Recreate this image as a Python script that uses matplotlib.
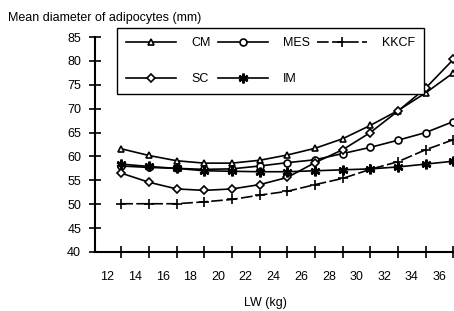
import numpy as np
import matplotlib
matplotlib.use("Agg")
import matplotlib.pyplot as plt

plt.rcParams['font.family'] = ['Liberation Sans', 'DejaVu Sans']

# live weight (kg) at each measurement
lw = [13, 15, 17, 19, 21, 23, 25, 27, 29, 31, 33, 35, 37]

# mean adipocyte diameter per fat depot
cm = [61.6, 60.2, 59.1, 58.6, 58.6, 59.2, 60.3, 61.7, 63.7, 66.5, 69.6, 73.3, 77.5]
mes = [58.0, 57.7, 57.5, 57.3, 57.4, 58.0, 58.7, 59.3, 60.6, 61.9, 63.4, 65.0, 67.3]
kkcf = [50.1, 50.1, 50.1, 50.5, 51.0, 51.9, 52.7, 54.1, 55.4, 57.3, 58.9, 61.4, 63.5]
sc = [56.5, 54.6, 53.2, 52.9, 53.2, 54.1, 55.6, 58.7, 61.4, 65.0, 69.5, 74.3, 80.3]
im = [58.4, 57.9, 57.5, 57.0, 56.9, 56.8, 56.8, 57.0, 57.2, 57.4, 57.8, 58.4, 59.0]

xlabels = [12, 14, 16, 18, 20, 22, 24, 26, 28, 30, 32, 34, 36]

fig = plt.figure(figsize=(4.54, 3.11), dpi=100)
ax = fig.add_axes([95 / 454, 59 / 311, 359 / 454, 215 / 311])

kw = dict(color='black', lw=1.2, clip_on=False, markersize=5,
          markerfacecolor='white', markeredgewidth=1.2)
l_cm, = ax.plot(lw, cm, marker='^', label='CM', **kw)
l_mes, = ax.plot(lw, mes, marker='o', label='MES', **kw)
l_kkcf, = ax.plot(lw, kkcf, marker='+', label='KKCF', dashes=(7, 2), **dict(kw, markersize=7))
l_sc, = ax.plot(lw, sc, marker='D', label='SC', **dict(kw, markersize=4.5))
l_im, = ax.plot(lw, im, marker=(6, 2, 0), label='IM', **dict(kw, markersize=7, markeredgewidth=1.8))

ax.set_xlim(11.1, 37.05)
ax.set_ylim(40, 85)
ax.set_yticks(np.arange(40, 86, 5))
ax.set_xticks(lw)
ax.set_xticklabels([])
ax.set_xticks(xlabels, minor=True)
ax.set_xticklabels([str(v) for v in xlabels], minor=True)
ax.tick_params(axis='x', which='major', direction='inout', length=8, width=1.2)
ax.tick_params(axis='x', which='minor', length=0, pad=14, labelsize=9)
ax.tick_params(axis='y', direction='inout', length=8, width=1.2, labelsize=9, pad=6)

for s in ['top', 'right']:
    ax.spines[s].set_visible(False)
ax.spines['left'].set_linewidth(1.5)
ax.spines['bottom'].set_linewidth(1.5)

leg = ax.legend(handles=[l_cm, l_sc, l_mes, l_im, l_kkcf], ncol=3,
                loc='upper left', bbox_to_anchor=(0.062, 1.04), fontsize=9,
                handlelength=4, columnspacing=0.6, handletextpad=1.2,
                labelspacing=1.9, borderpad=0.7, borderaxespad=0,
                fancybox=False, edgecolor='black', framealpha=1)
leg.get_frame().set_linewidth(1.0)

fig.text(8 / 454, 1 - 18 / 311, 'Mean diameter of adipocytes (mm)', fontsize=9, va='center')
fig.text(265 / 454, 1 - 303 / 311, 'LW (kg)', fontsize=9, ha='center', va='center')

fig.savefig('out.png', dpi=100)
